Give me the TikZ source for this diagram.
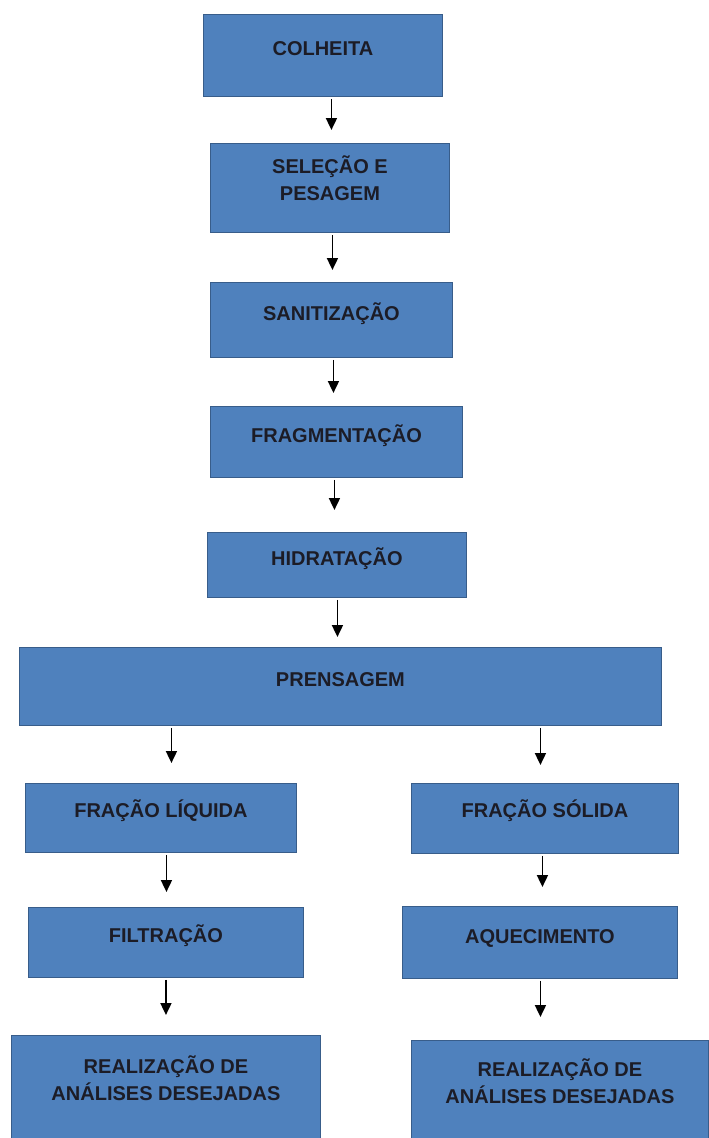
\documentclass[tikz,border=0pt]{standalone}
\usepackage{fontspec}
\setmainfont{Liberation Sans}
\usetikzlibrary{arrows.meta}
\definecolor{stepblue}{RGB}{79,129,189}
\definecolor{stepedge}{RGB}{56,93,138}
\definecolor{steptextcol}{RGB}{28,28,38}
\tikzset{
    stepbox/.style={rectangle, draw=stepedge, fill=stepblue, line width=0.9pt, anchor=north west, inner sep=0pt},
    steplabel/.style={font=\bfseries\fontsize{20}{27}\selectfont, text=steptextcol, align=center, anchor=base, inner sep=0pt},
    steparrow/.style={-{Triangle[length=12pt, width=11pt]}, line width=1.8pt, black, shorten <=2pt}
}

\begin{document}
\begin{tikzpicture}[x=1pt, y=-1pt]
\useasboundingbox (0,0) rectangle (709,1138);

% main line
\node[stepbox, minimum width=239pt, minimum height=82pt, label={[steplabel, yshift=-41pt]north:COLHEITA}] (colheita) at (203,14) {};
\node[stepbox, minimum width=239pt, minimum height=89pt, label={[steplabel, yshift=-57pt]north:SELEÇÃO E\\PESAGEM}] (selecao) at (210,143) {};
\node[stepbox, minimum width=242pt, minimum height=75pt, label={[steplabel, yshift=-38pt]north:SANITIZAÇÃO}] (sanit) at (210,282) {};
\node[stepbox, minimum width=252pt, minimum height=71pt, label={[steplabel, yshift=-36pt]north:FRAGMENTAÇÃO}] (fragm) at (210,406) {};
\node[stepbox, minimum width=259pt, minimum height=65pt, label={[steplabel, yshift=-33pt]north:HIDRATAÇÃO}] (hidrat) at (207,532) {};
\node[stepbox, minimum width=642pt, minimum height=78pt, label={[steplabel, yshift=-39pt]north:PRENSAGEM}] (prens) at (19,647) {};

% left branch
\node[stepbox, minimum width=271pt, minimum height=69pt, label={[steplabel, yshift=-34pt]north:FRAÇÃO LÍQUIDA}] (liquida) at (25,783) {};
\node[stepbox, minimum width=275pt, minimum height=70pt, label={[steplabel, yshift=-35pt]north:FILTRAÇÃO}] (filtr) at (28,907) {};
\node[stepbox, minimum width=309pt, minimum height=110pt, label={[steplabel, yshift=-65pt]north:REALIZAÇÃO DE\\ANÁLISES DESEJADAS}] (analiseL) at (11,1035) {};

% right branch
\node[stepbox, minimum width=267pt, minimum height=70pt, label={[steplabel, yshift=-34pt]north:FRAÇÃO SÓLIDA}] (solida) at (411,783) {};
\node[stepbox, minimum width=275pt, minimum height=72pt, label={[steplabel, yshift=-37pt]north:AQUECIMENTO}] (aquec) at (402,906) {};
\node[stepbox, minimum width=297pt, minimum height=105pt, label={[steplabel, yshift=-63pt]north:REALIZAÇÃO DE\\ANÁLISES DESEJADAS}] (analiseR) at (411,1040) {};

\draw[steparrow, shorten >=13pt] ([xshift=8.5pt]colheita.south) -- ([xshift=8.5pt]colheita.south |- selecao.north);
\draw[steparrow, shorten >=12pt] ([xshift=2.5pt]selecao.south) -- ([xshift=2.5pt]selecao.south |- sanit.north);
\draw[steparrow, shorten >=13pt] ([xshift=2pt]sanit.south) -- ([xshift=2pt]sanit.south |- fragm.north);
\draw[steparrow, shorten >=22pt] ([xshift=-2pt]fragm.south) -- ([xshift=-2pt]fragm.south |- hidrat.north);
\draw[steparrow, shorten >=10pt] ([xshift=0.5pt]hidrat.south) -- ([xshift=0.5pt]hidrat.south |- prens.north);

\draw[steparrow, shorten >=20pt] ([xshift=-169pt]prens.south) -- ([xshift=-169pt]prens.south |- liquida.north);
\draw[steparrow, shorten >=18pt] ([xshift=200pt]prens.south) -- ([xshift=200pt]prens.south |- solida.north);
\draw[steparrow, shorten >=15pt] ([xshift=5.5pt]liquida.south) -- ([xshift=5.5pt]liquida.south |- filtr.north);
\draw[steparrow, shorten >=19pt] ([xshift=-2.5pt]solida.south) -- ([xshift=-2.5pt]solida.south |- aquec.north);
\draw[steparrow, shorten >=20pt] (filtr.south) -- (filtr.south |- analiseL.north);
\draw[steparrow, shorten >=23pt] ([xshift=0.5pt]aquec.south) -- ([xshift=0.5pt]aquec.south |- analiseR.north);

\end{tikzpicture}
\end{document}
